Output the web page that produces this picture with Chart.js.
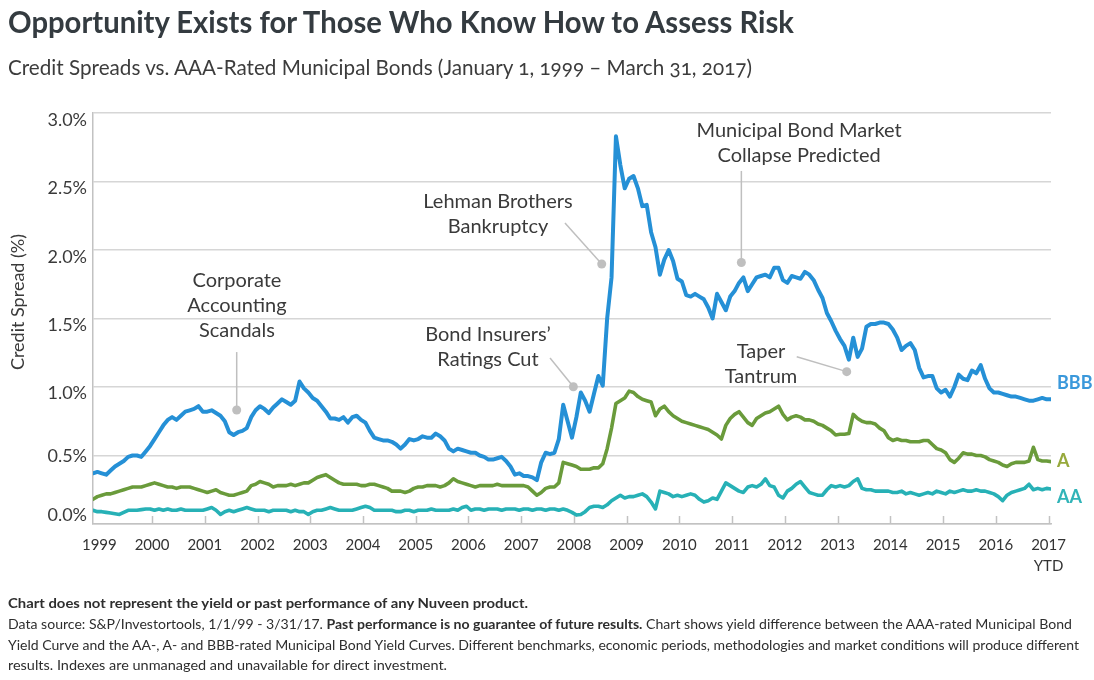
<!DOCTYPE html>
<html>
<head>
<meta charset="utf-8">
<title>Credit Spreads vs. AAA-Rated Municipal Bonds</title>
<script src="https://cdn.jsdelivr.net/npm/chart.js@4.4.1/dist/chart.umd.min.js"></script>
<style>
  html, body { margin: 0; padding: 0; background: #fff; }
  #wrap { position: relative; width: 1094px; height: 680px; overflow: hidden; font-family: Lato, "Open Sans", sans-serif; color: #333; }
  #chart { position: absolute; left: 0; top: 0; }
  .line { position: absolute; left: 8px; white-space: nowrap; line-height: 1; transform-origin: 0 50%; }
  #title { top: 6px; font-size: 30px; font-weight: 700; color: #343b40; }
  #subtitle { top: 56px; font-size: 22px; color: #3c3c3c; font-variant-numeric: oldstyle-nums; }
  .note { font-size: 14px; color: #2e2e2e; }
</style>
</head>
<body>
<div id="wrap">
  <canvas id="chart" width="1094" height="680"></canvas>
  <div class="line" id="title" data-w="786">Opportunity Exists for Those Who Know How to Assess Risk</div>
  <div class="line" id="subtitle" data-w="744">Credit Spreads vs. AAA-Rated Municipal Bonds (January 1, 1999 – March 31, 2017)</div>
  <div class="line note" style="top:596px;font-weight:700" data-w="520">Chart does not represent the yield or past performance of any Nuveen product.</div>
  <div class="line note" style="top:617px" data-w="1064">Data source: S&amp;P/Investortools, 1/1/99 - 3/31/17. <b>Past performance is no guarantee of future results.</b> Chart shows yield difference between the AAA-rated Municipal Bond</div>
  <div class="line note" style="top:638px" data-w="1071">Yield Curve and the AA-, A- and BBB-rated Municipal Bond Yield Curves. Different benchmarks, economic periods, methodologies and market conditions will produce different</div>
  <div class="line note" style="top:658px" data-w="439">results. Indexes are unmanaged and unavailable for direct investment.</div>
</div>
<script>
// monthly spreads over AAA, Jan 1999 - Mar 2017 (percent)
const startYear = 1999;

const bbb = [
  0.37, 0.38, 0.37, 0.36, 0.39, 0.42, 0.44, 0.46, 0.49, 0.50, 0.50, 0.49, // 1999
  0.53, 0.57, 0.62, 0.67, 0.72, 0.76, 0.78, 0.76, 0.79, 0.82, 0.83, 0.84, // 2000
  0.86, 0.82, 0.82, 0.83, 0.81, 0.79, 0.75, 0.67, 0.65, 0.67, 0.68, 0.70, // 2001
  0.78, 0.83, 0.86, 0.84, 0.81, 0.85, 0.88, 0.91, 0.89, 0.87, 0.90, 1.04, // 2002
  0.99, 0.96, 0.92, 0.90, 0.86, 0.82, 0.77, 0.77, 0.76, 0.78, 0.74, 0.78, // 2003
  0.79, 0.76, 0.74, 0.68, 0.63, 0.62, 0.61, 0.61, 0.60, 0.58, 0.55, 0.58, // 2004
  0.62, 0.61, 0.62, 0.64, 0.63, 0.63, 0.66, 0.64, 0.61, 0.55, 0.53, 0.55, // 2005
  0.54, 0.53, 0.52, 0.52, 0.50, 0.49, 0.47, 0.47, 0.48, 0.49, 0.46, 0.42, // 2006
  0.36, 0.37, 0.35, 0.35, 0.34, 0.32, 0.45, 0.52, 0.51, 0.52, 0.62, 0.87, // 2007
  0.75, 0.63, 0.78, 0.96, 0.90, 0.82, 0.95, 1.08, 1.01, 1.50, 1.80, 2.83, // 2008
  2.62, 2.45, 2.52, 2.54, 2.45, 2.32, 2.33, 2.13, 2.02, 1.82, 1.93, 2.00, // 2009
  1.92, 1.79, 1.77, 1.67, 1.66, 1.68, 1.66, 1.64, 1.58, 1.50, 1.68, 1.62, // 2010
  1.56, 1.66, 1.70, 1.76, 1.80, 1.70, 1.75, 1.80, 1.81, 1.82, 1.80, 1.87, // 2011
  1.87, 1.78, 1.76, 1.81, 1.80, 1.79, 1.84, 1.82, 1.78, 1.71, 1.65, 1.54, // 2012
  1.48, 1.41, 1.35, 1.30, 1.20, 1.36, 1.22, 1.28, 1.44, 1.46, 1.46, 1.47, // 2013
  1.47, 1.46, 1.42, 1.36, 1.27, 1.30, 1.32, 1.27, 1.14, 1.07, 1.08, 1.08, // 2014
  0.99, 0.96, 0.98, 0.93, 1.00, 1.09, 1.06, 1.05, 1.12, 1.10, 1.16, 1.06, // 2015
  0.99, 0.96, 0.96, 0.95, 0.94, 0.93, 0.93, 0.92, 0.91, 0.90, 0.90, 0.91, // 2016
  0.92, 0.91, 0.91                                                          // 2017
];

const aRated = [
  0.18, 0.20, 0.21, 0.22, 0.22, 0.23, 0.24, 0.25, 0.26, 0.27, 0.27, 0.27,
  0.28, 0.29, 0.30, 0.29, 0.28, 0.27, 0.27, 0.26, 0.27, 0.27, 0.27, 0.26,
  0.25, 0.24, 0.23, 0.24, 0.25, 0.23, 0.22, 0.21, 0.21, 0.22, 0.23, 0.24,
  0.28, 0.29, 0.31, 0.30, 0.29, 0.27, 0.28, 0.28, 0.28, 0.29, 0.28, 0.29,
  0.30, 0.30, 0.32, 0.34, 0.35, 0.36, 0.34, 0.32, 0.30, 0.29, 0.29, 0.29,
  0.29, 0.28, 0.28, 0.29, 0.29, 0.28, 0.27, 0.26, 0.24, 0.24, 0.24, 0.23,
  0.24, 0.26, 0.27, 0.27, 0.28, 0.28, 0.28, 0.27, 0.28, 0.30, 0.33, 0.31,
  0.30, 0.29, 0.28, 0.27, 0.28, 0.28, 0.28, 0.28, 0.29, 0.28, 0.28, 0.28,
  0.28, 0.28, 0.28, 0.27, 0.24, 0.21, 0.23, 0.26, 0.27, 0.27, 0.30, 0.45,
  0.44, 0.43, 0.42, 0.40, 0.40, 0.40, 0.41, 0.41, 0.44, 0.55, 0.70, 0.88,
  0.90, 0.92, 0.97, 0.96, 0.93, 0.91, 0.90, 0.89, 0.79, 0.84, 0.86, 0.82,
  0.79, 0.77, 0.75, 0.74, 0.73, 0.72, 0.71, 0.70, 0.69, 0.67, 0.65, 0.62,
  0.72, 0.77, 0.80, 0.82, 0.78, 0.74, 0.72, 0.77, 0.79, 0.81, 0.82, 0.84,
  0.86, 0.80, 0.76, 0.78, 0.79, 0.78, 0.76, 0.76, 0.75, 0.73, 0.72, 0.70,
  0.68, 0.65, 0.655, 0.655, 0.66, 0.80, 0.77, 0.75, 0.74, 0.74, 0.73, 0.70,
  0.68, 0.63, 0.61, 0.62, 0.61, 0.61, 0.60, 0.60, 0.60, 0.61, 0.61, 0.58,
  0.55, 0.54, 0.52, 0.47, 0.45, 0.48, 0.52, 0.51, 0.51, 0.50, 0.50, 0.49,
  0.47, 0.46, 0.45, 0.43, 0.42, 0.44, 0.45, 0.45, 0.45, 0.46, 0.56, 0.47,
  0.46, 0.46, 0.455
];

const aa = [
  0.10, 0.09, 0.09, 0.085, 0.08, 0.075, 0.07, 0.085, 0.10, 0.10, 0.10, 0.105,
  0.11, 0.11, 0.10, 0.11, 0.10, 0.11, 0.10, 0.10, 0.11, 0.10, 0.10, 0.10,
  0.10, 0.10, 0.11, 0.12, 0.10, 0.07, 0.09, 0.10, 0.09, 0.10, 0.11, 0.12,
  0.11, 0.10, 0.10, 0.10, 0.09, 0.10, 0.10, 0.10, 0.10, 0.09, 0.10, 0.09,
  0.09, 0.07, 0.09, 0.10, 0.10, 0.11, 0.12, 0.11, 0.10, 0.10, 0.10, 0.10,
  0.11, 0.12, 0.13, 0.12, 0.10, 0.10, 0.10, 0.10, 0.10, 0.09, 0.09, 0.10,
  0.10, 0.09, 0.10, 0.10, 0.10, 0.11, 0.10, 0.10, 0.10, 0.10, 0.11, 0.10,
  0.12, 0.13, 0.10, 0.11, 0.11, 0.10, 0.11, 0.11, 0.11, 0.10, 0.11, 0.11,
  0.11, 0.10, 0.11, 0.11, 0.10, 0.11, 0.11, 0.10, 0.11, 0.11, 0.10, 0.11,
  0.10, 0.085, 0.065, 0.07, 0.09, 0.12, 0.13, 0.13, 0.12, 0.14, 0.17, 0.19,
  0.21, 0.19, 0.20, 0.20, 0.21, 0.22, 0.20, 0.16, 0.11, 0.24, 0.23, 0.22,
  0.20, 0.21, 0.20, 0.21, 0.22, 0.21, 0.18, 0.16, 0.17, 0.19, 0.18, 0.24,
  0.30, 0.28, 0.26, 0.24, 0.23, 0.27, 0.28, 0.27, 0.29, 0.33, 0.28, 0.27,
  0.21, 0.19, 0.24, 0.26, 0.29, 0.31, 0.27, 0.23, 0.22, 0.21, 0.21, 0.25,
  0.28, 0.27, 0.28, 0.27, 0.28, 0.31, 0.33, 0.26, 0.25, 0.25, 0.24, 0.24,
  0.24, 0.24, 0.23, 0.23, 0.24, 0.22, 0.23, 0.22, 0.21, 0.22, 0.23, 0.22,
  0.24, 0.23, 0.22, 0.24, 0.23, 0.24, 0.25, 0.24, 0.24, 0.25, 0.24, 0.24,
  0.23, 0.22, 0.20, 0.17, 0.21, 0.23, 0.24, 0.25, 0.26, 0.29, 0.25, 0.26,
  0.25, 0.26, 0.255
];

const seriesNames = ['BBB', 'A', 'AA'];
const yearLabels = ['1999', '2000', '2001', '2002', '2003', '2004', '2005', '2006', '2007',
  '2008', '2009', '2010', '2011', '2012', '2013', '2014', '2015', '2016', ['2017', 'YTD']];
const yTicks = [0, 0.5, 1, 1.5, 2, 2.5, 3];

// styling
const blue = '#2590d6', green = '#6a9b3b', teal = '#27b1b6';
const labelColors = ['#3a98db', '#97a93c', '#31b4b8'];
const gridGray = '#d6d6d6', axisGray = '#c2c2c2', calloutGray = '#bfbfbf', ink = '#3a3a3a';
const yLabelNudge = [-9, 1, 6, 7, 7, 7, 7];       // px, per tick
const endLabelAt = [1.03, 0.46, 0.195];           // value where each series name sits

// event notes: text anchor, leader start, leader end (year, %)
const callouts = [
  { lines: ['Corporate', 'Accounting', 'Scandals'], text: [2001.73, 1.78], from: [2001.725, 1.255], to: [2001.725, 0.832] },
  { lines: ['Lehman Brothers', 'Bankruptcy'], text: [2006.68, 2.353], from: [2007.95, 2.197], to: [2008.647, 1.898] },
  { lines: ['Bond Insurers’', 'Ratings Cut'], text: [2006.49, 1.38], from: [2007.667, 1.212], to: [2008.109, 1.002] },
  { lines: ['Municipal Bond Market', 'Collapse Predicted'], text: [2012.39, 2.869], from: [2011.295, 2.577], to: [2011.295, 1.909] },
  { lines: ['Taper', 'Tantrum'], text: [2011.668, 1.258], from: [2012.345, 1.221], to: [2013.293, 1.112] }
];

const toPoints = arr => arr.map((v, i) => ({ x: startYear + i / 12, y: v }));

const overlay = {
  id: 'overlay',
  beforeDatasetsDraw(chart) {
    const { ctx, chartArea, scales: { x } } = chart;
    ctx.save();
    ctx.strokeStyle = axisGray;
    ctx.lineWidth = 1.5;
    x.ticks.forEach((t, i) => {
      if (i === 0) return;
      const px = Math.round(x.getPixelForValue(t.value)) + 0.5;
      ctx.beginPath();
      ctx.moveTo(px, chartArea.bottom);
      ctx.lineTo(px, chartArea.bottom - 8);
      ctx.stroke();
    });
    ctx.restore();
  },
  afterDatasetsDraw(chart) {
    const { ctx, chartArea, scales: { x, y } } = chart;
    ctx.save();

    // y tick labels
    ctx.font = '18px Lato';
    ctx.fillStyle = ink;
    ctx.textAlign = 'right';
    ctx.textBaseline = 'middle';
    yTicks.forEach((v, i) => {
      ctx.fillText(v.toFixed(1) + '%', chartArea.left - 6, y.getPixelForValue(v) + yLabelNudge[i]);
    });

    // y axis title
    ctx.save();
    ctx.translate(18, 302);
    ctx.rotate(-Math.PI / 2);
    ctx.textAlign = 'center';
    ctx.fillText('Credit Spread (%)', 0, 0);
    ctx.restore();

    // callouts
    callouts.forEach(c => {
      const x0 = x.getPixelForValue(c.from[0]), y0 = y.getPixelForValue(c.from[1]);
      const x1 = x.getPixelForValue(c.to[0]), y1 = y.getPixelForValue(c.to[1]);
      ctx.strokeStyle = calloutGray;
      ctx.lineWidth = 1.5;
      ctx.beginPath();
      ctx.moveTo(x0, y0);
      ctx.lineTo(x1, y1);
      ctx.stroke();
      ctx.fillStyle = calloutGray;
      ctx.beginPath();
      ctx.arc(x1, y1, 4.5, 0, Math.PI * 2);
      ctx.fill();

      ctx.font = '20px Lato';
      ctx.fillStyle = ink;
      ctx.textAlign = 'center';
      const tx = x.getPixelForValue(c.text[0]), ty = y.getPixelForValue(c.text[1]);
      c.lines.forEach((s, k) => ctx.fillText(s, tx, ty + k * 25));
    });

    // series names at the right end
    ctx.font = 'bold 18px Lato';
    ctx.textAlign = 'left';
    seriesNames.forEach((n, i) => {
      ctx.fillStyle = labelColors[i];
      ctx.fillText(n, chartArea.right + 6, y.getPixelForValue(endLabelAt[i]));
    });
    ctx.restore();
  }
};

new Chart(document.getElementById('chart'), {
  type: 'line',
  data: {
    datasets: [
      { label: seriesNames[0], data: toPoints(bbb), borderColor: blue, borderWidth: 4 },
      { label: seriesNames[1], data: toPoints(aRated), borderColor: green, borderWidth: 3.6 },
      { label: seriesNames[2], data: toPoints(aa), borderColor: teal, borderWidth: 3.6 }
    ]
  },
  options: {
    responsive: false,
    animation: false,
    elements: {
      point: { radius: 0 },
      line: { tension: 0, borderJoinStyle: 'round', borderCapStyle: 'round', fill: false }
    },
    layout: { padding: { top: 113, right: 43, left: 0, bottom: 0 } },
    plugins: { legend: { display: false }, tooltip: { enabled: false } },
    scales: {
      x: {
        type: 'linear',
        min: startYear,
        max: 2017 + 2 / 12,
        afterBuildTicks: s => { s.ticks = yearLabels.map((_, i) => ({ value: startYear + i + 0.12 })); },
        afterFit: s => { s.height = 156; },
        grid: { display: false, drawTicks: false },
        border: { display: true, color: axisGray, width: 1.5 },
        ticks: {
          autoSkip: false, maxRotation: 0, padding: 11, color: '#333',
          font: { family: 'Lato', size: 15, lineHeight: 1.4 },
          callback: (v, i) => yearLabels[i]
        }
      },
      y: {
        min: 0,
        max: 3,
        afterBuildTicks: s => { s.ticks = yTicks.map(v => ({ value: v })); },
        afterFit: s => { s.width = 93; },
        grid: { color: gridGray, lineWidth: 1.5, drawTicks: false },
        border: { display: true, color: axisGray, width: 1.5 },
        ticks: { display: false }
      }
    }
  },
  plugins: [overlay]
});

// squeeze each text line to its column width
function fitLines() {
  document.querySelectorAll('.line').forEach(el => {
    el.style.transform = 'none';
    const w = el.getBoundingClientRect().width;
    el.style.transform = 'scaleX(' + (+el.dataset.w / w) + ')';
  });
}
fitLines();
document.fonts.ready.then(fitLines);
</script>
</body>
</html>
